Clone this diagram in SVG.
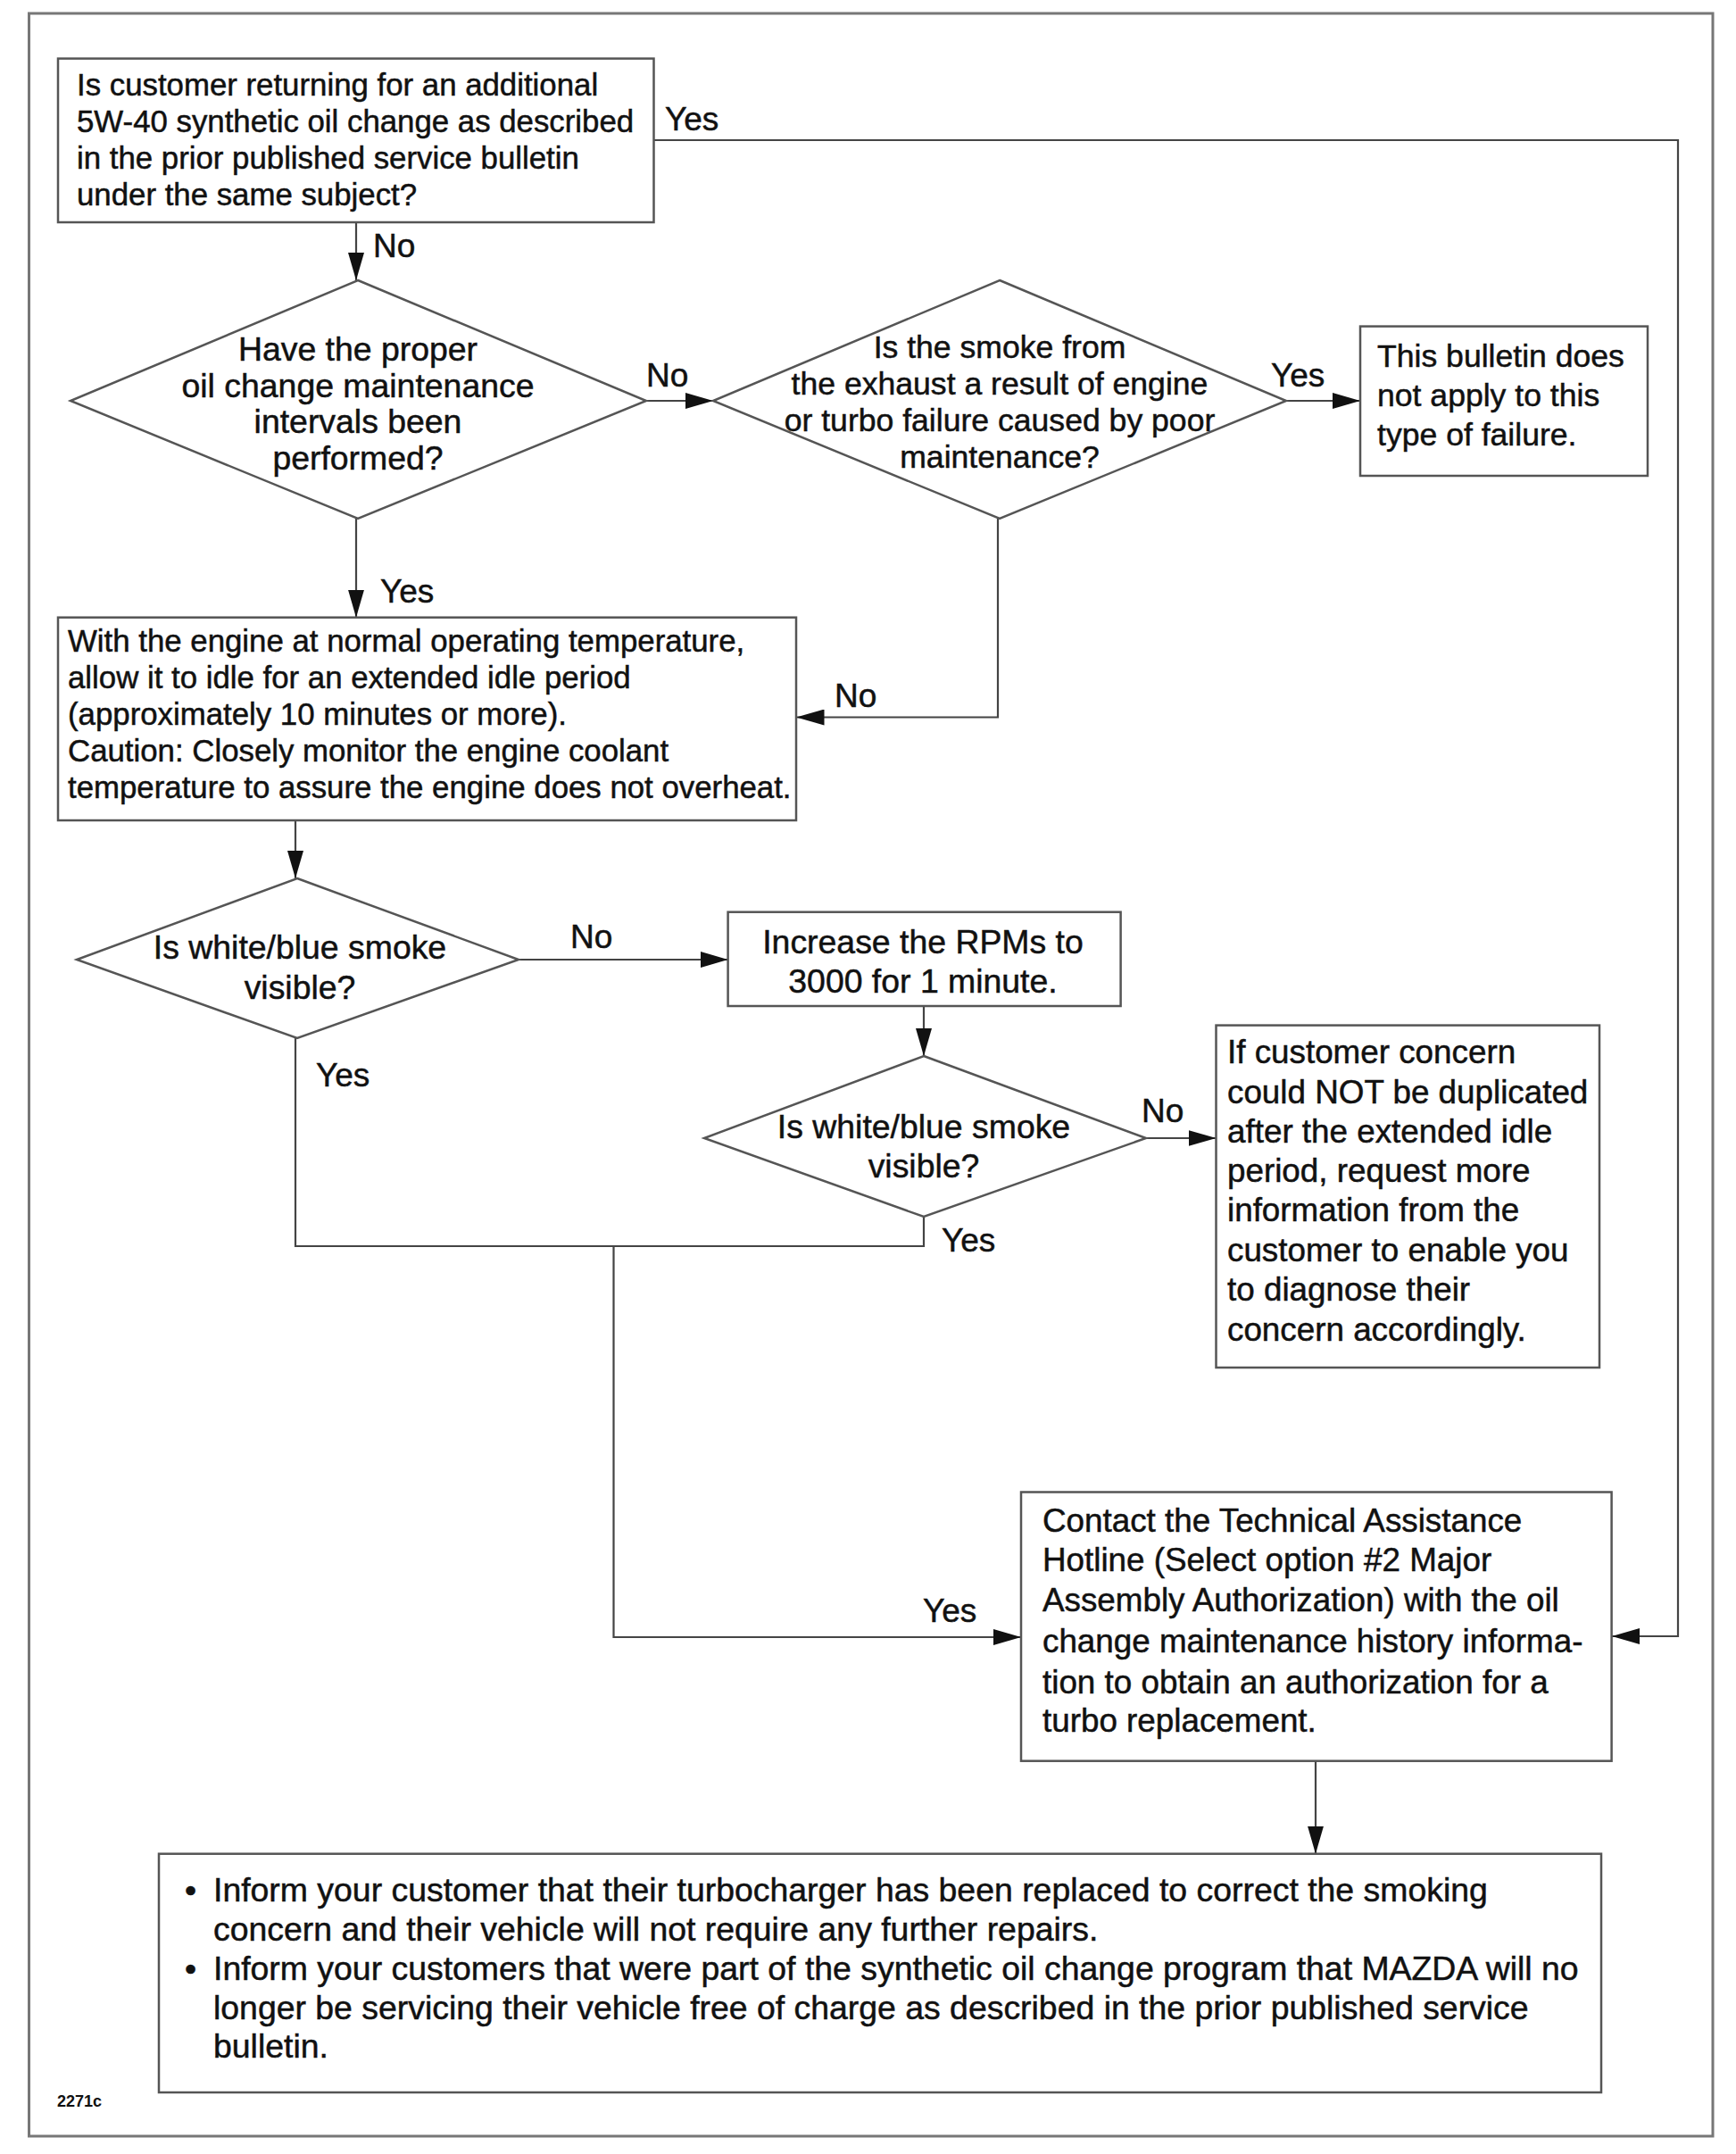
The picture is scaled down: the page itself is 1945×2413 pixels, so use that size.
<svg xmlns="http://www.w3.org/2000/svg" width="1945" height="2413" viewBox="0 0 1945 2413">
<style>
text{font-family:"Liberation Sans",Arial,Helvetica,sans-serif;font-size:34.8px;fill:#111;stroke:#111;stroke-width:0.5}
.c{text-anchor:middle}
.f356{font-size:35.6px}
.f368{font-size:36.8px}
.f374{font-size:37.4px}
.lbl{font-size:37px}
.box{fill:#fff;stroke:#555;stroke-width:2.5}
.ln{fill:none;stroke:#444;stroke-width:2.2}
.id{font-size:18px;font-weight:bold;stroke-width:0}
</style>
<defs>
<marker id="ah" viewBox="0 0 31 18" refX="31" refY="9" markerWidth="31" markerHeight="18" orient="auto" markerUnits="userSpaceOnUse">
<path d="M0,0 L31,9 L0,18 z" fill="#111"/>
</marker>
</defs>
<rect width="1945" height="2413" fill="#fff"/>
<rect id="frame" x="32.5" y="15" width="1886.5" height="2378" fill="none" stroke="#777" stroke-width="3"/>

<g id="connectors">
<path class="ln" d="M732.5,157 H1880 V1833 H1806" marker-end="url(#ah)"/>
<path class="ln" d="M399,249 V314" marker-end="url(#ah)"/>
<path class="ln" d="M724,449 H799" marker-end="url(#ah)"/>
<path class="ln" d="M1441,449 H1524" marker-end="url(#ah)"/>
<path class="ln" d="M399,581 V691.7" marker-end="url(#ah)"/>
<path class="ln" d="M1118,581 V803.5 H892.5" marker-end="url(#ah)"/>
<path class="ln" d="M331,919 V984" marker-end="url(#ah)"/>
<path class="ln" d="M581,1075 H815.6" marker-end="url(#ah)"/>
<path class="ln" d="M1035,1127 V1183" marker-end="url(#ah)"/>
<path class="ln" d="M1284,1275 H1362.5" marker-end="url(#ah)"/>
<path class="ln" d="M331,1163 V1396 H1035 V1363"/>
<path class="ln" d="M687.5,1396 V1834 H1144" marker-end="url(#ah)"/>
<path class="ln" d="M1474,1972.7 V2076.7" marker-end="url(#ah)"/>
<text class="lbl" x="745" y="146">Yes</text>
<text class="lbl" x="418" y="288">No</text>
<text class="lbl" x="724" y="433">No</text>
<text class="lbl" x="1424" y="433">Yes</text>
<text class="lbl" x="426" y="675">Yes</text>
<text class="lbl" x="935" y="792">No</text>
<text class="lbl" x="639" y="1062">No</text>
<text class="lbl" x="354" y="1217">Yes</text>
<text class="lbl" x="1279" y="1257">No</text>
<text class="lbl" x="1055" y="1402">Yes</text>
<text class="lbl" x="1034" y="1817">Yes</text>
</g>

<g id="q-returning">
<rect class="box" x="65" y="65.6" width="667.5" height="183.4"/>
<text x="86" y="107">Is customer returning for an additional</text>
<text x="86" y="148">5W-40 synthetic oil change as described</text>
<text x="86" y="189">in the prior published service bulletin</text>
<text x="86" y="230">under the same subject?</text>
</g>

<g id="q-intervals" class="f374">
<polygon class="box" points="401,314 724,449 401,581 79,449"/>
<text class="c f374" x="401" y="404">Have the proper</text>
<text class="c f374" x="401" y="445">oil change maintenance</text>
<text class="c f374" x="401" y="485">intervals been</text>
<text class="c f374" x="401" y="526">performed?</text>
</g>

<g id="q-smoke-cause">
<polygon class="box" points="1120,314 1441,449 1120,581 799,449"/>
<text class="c f356" x="1120" y="401">Is the smoke from</text>
<text class="c f356" x="1120" y="442">the exhaust a result of engine</text>
<text class="c f356" x="1120" y="483">or turbo failure caused by poor</text>
<text class="c f356" x="1120" y="524">maintenance?</text>
</g>

<g id="not-apply">
<rect class="box" x="1524" y="365.6" width="322" height="167.4"/>
<text class="f356" x="1543" y="411">This bulletin does</text>
<text class="f356" x="1543" y="455">not apply to this</text>
<text class="f356" x="1543" y="499">type of failure.</text>
</g>

<g id="idle-step">
<rect class="box" x="65" y="691.7" width="827" height="227.3"/>
<text x="76" y="730">With the engine at normal operating temperature,</text>
<text x="76" y="771">allow it to idle for an extended idle period</text>
<text x="76" y="812">(approximately 10 minutes or more).</text>
<text x="76" y="853">Caution: Closely monitor the engine coolant</text>
<text x="76" y="894">temperature to assure the engine does not overheat.</text>
</g>

<g id="q-visible-1">
<polygon class="box" points="333,984 581,1075 333,1163 86,1075"/>
<text class="c f374" x="336" y="1074">Is white/blue smoke</text>
<text class="c f374" x="336" y="1119">visible?</text>
</g>

<g id="rpm-step">
<rect class="box" x="815.6" y="1021.7" width="440" height="105.3"/>
<text class="c f374" x="1034" y="1068">Increase the RPMs to</text>
<text class="c f374" x="1034" y="1112">3000 for 1 minute.</text>
</g>

<g id="q-visible-2">
<polygon class="box" points="1035,1183 1284,1275 1035,1363 789,1275"/>
<text class="c f374" x="1035" y="1275">Is white/blue smoke</text>
<text class="c f374" x="1035" y="1319">visible?</text>
</g>

<g id="not-duplicated">
<rect class="box" x="1362.5" y="1148.6" width="429.5" height="383.4"/>
<text class="f368" x="1375" y="1191">If customer concern</text>
<text class="f368" x="1375" y="1236">could NOT be duplicated</text>
<text class="f368" x="1375" y="1280">after the extended idle</text>
<text class="f368" x="1375" y="1324">period, request more</text>
<text class="f368" x="1375" y="1368">information from the</text>
<text class="f368" x="1375" y="1413">customer to enable you</text>
<text class="f368" x="1375" y="1457">to diagnose their</text>
<text class="f368" x="1375" y="1502">concern accordingly.</text>
</g>

<g id="contact-hotline">
<rect class="box" x="1144" y="1671.5" width="661.6" height="301.2"/>
<text class="f368" x="1168" y="1716">Contact the Technical Assistance</text>
<text class="f368" x="1168" y="1760">Hotline (Select option #2 Major</text>
<text class="f368" x="1168" y="1805">Assembly Authorization) with the oil</text>
<text class="f368" x="1168" y="1851">change maintenance history informa-</text>
<text class="f368" x="1168" y="1897">tion to obtain an authorization for a</text>
<text class="f368" x="1168" y="1940">turbo replacement.</text>
</g>

<g id="inform-customer">
<rect class="box" x="178" y="2076.7" width="1616" height="267.3"/>
<text class="f374" x="207" y="2130">•</text>
<text class="f374" x="239" y="2130">Inform your customer that their turbocharger has been replaced to correct the smoking</text>
<text class="f374" x="239" y="2174">concern and their vehicle will not require any further repairs.</text>
<text class="f374" x="207" y="2218">•</text>
<text class="f374" x="239" y="2218">Inform your customers that were part of the synthetic oil change program that MAZDA will no</text>
<text class="f374" x="239" y="2262">longer be servicing their vehicle free of charge as described in the prior published service</text>
<text class="f374" x="239" y="2305">bulletin.</text>
</g>

<text class="id" x="64" y="2360">2271c</text>
</svg>
